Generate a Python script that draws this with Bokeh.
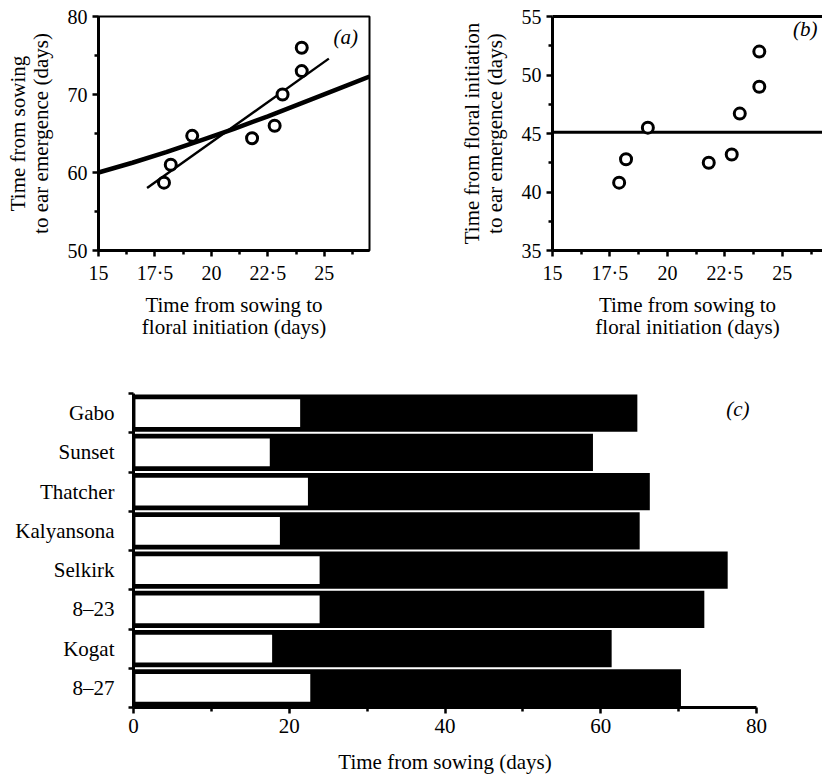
from bokeh.plotting import figure
from bokeh.models import FixedTicker, LinearAxis, Span, Label, Range1d
from bokeh.layouts import column, row
from bokeh.embed import file_html
from bokeh.resources import INLINE

# ---------------- data ----------------
# panels (a) and (b): eight varieties
fi_days = [17.9, 18.2, 19.15, 21.8, 22.8, 23.15, 24.0, 24.0]       # sowing -> floral initiation
sow_to_ee = [58.7, 61.0, 64.7, 64.4, 66.0, 70.0, 73.0, 76.0]      # sowing -> ear emergence
fi_to_ee = [40.8, 42.8, 45.5, 42.5, 43.2, 46.7, 49.0, 52.0]       # floral initiation -> ear emergence

# thick curve in (a)
curve_x = [15, 16.5, 18, 19.5, 21, 22.5, 24, 25.5, 27]
curve_y = [60.0, 61.25, 62.6, 64.1, 65.6, 67.2, 68.9, 70.6, 72.3]
# thin regression line in (a)
fit_x = [17.15, 25.2]
fit_y = [58.0, 74.6]
# horizontal line in (b)
mean_fi_to_ee = 45.1

# panel (c)
varieties = ["Gabo", "Sunset", "Thatcher", "Kalyansona", "Selkirk", "8\u201323", "Kogat", "8\u201327"]
sow_to_fi_c = [21.4, 17.5, 22.4, 18.8, 23.9, 23.9, 17.8, 22.7]
sow_to_ee_c = [64.7, 59.0, 66.3, 65.0, 76.3, 73.3, 61.4, 70.3]

# ticks
ab_xticks = [15, 17.5, 20, 22.5, 25]
ab_xminor = [16.25, 18.75, 21.25, 23.75, 26.25]
a_yticks = [50, 60, 70, 80]
a_yminor = [55, 65, 75]
b_yticks = [35, 40, 45, 50, 55]
b_yminor = [37.5, 42.5, 47.5, 52.5]
c_xticks = [0, 20, 40, 60, 80]
c_xminor = [10, 30, 50, 70]
dot_labels = {17.5: "17\u00b75", 22.5: "22\u00b75"}

FONT = "Liberation Serif"


def style_axis(ax, tick_size="20px", line_width=3):
    ax.axis_line_width = line_width
    ax.axis_line_color = "black"
    ax.major_tick_line_width = 2.5
    ax.minor_tick_line_width = 2.5
    ax.major_tick_line_color = "black"
    ax.minor_tick_line_color = "black"
    ax.major_tick_out = 6
    ax.major_tick_in = 0
    ax.minor_tick_out = 4
    ax.minor_tick_in = 0
    ax.major_label_text_font = FONT
    ax.major_label_text_font_size = tick_size
    ax.major_label_text_color = "black"
    ax.axis_label_text_font = FONT
    ax.axis_label_text_font_size = "21px"
    ax.axis_label_text_font_style = "normal"
    ax.axis_label_text_color = "black"
    ax.axis_label_text_line_height = 0.95


def base(width, height, x_range, y_range, left, right, top, bottom):
    p = figure(width=width, height=height, x_range=x_range, y_range=y_range,
               output_backend="svg", toolbar_location=None,
               min_border_left=left, min_border_right=right,
               min_border_top=top, min_border_bottom=bottom)
    p.grid.visible = False
    p.background_fill_color = "white"
    p.border_fill_color = "white"
    return p


def panel_tag(p, x, y, text):
    p.add_layout(Label(x=x, y=y, text=text, text_font=FONT, text_font_size="21px",
                       text_font_style="italic", text_color="black",
                       text_align="center", text_baseline="middle"))


TOP_H = 347

# ---------------- panel (a) ----------------
pa = base(400, TOP_H, Range1d(15, 27), Range1d(50, 80), 98, 31, 15, 97)
pa.outline_line_color = "black"
pa.outline_line_width = 2
pa.line(curve_x, curve_y, line_width=4.5, line_color="black")
pa.line(fit_x, fit_y, line_width=2.4, line_color="black")
pa.scatter(fi_days, sow_to_ee, marker="circle", size=11, fill_color="white",
           line_color="black", line_width=3)
pa.xaxis.ticker = FixedTicker(ticks=ab_xticks, minor_ticks=ab_xminor)
pa.xaxis.major_label_overrides = dot_labels
pa.yaxis.ticker = FixedTicker(ticks=a_yticks, minor_ticks=a_yminor)
pa.xaxis.axis_label = "Time from sowing to\nfloral initiation (days)"
pa.yaxis.axis_label = "Time from sowing\nto ear emergence (days)"
for ax in pa.xaxis + pa.yaxis:
    style_axis(ax)
pa.xaxis.axis_label_standoff = 6
pa.yaxis.axis_label_standoff = 12
panel_tag(pa, 25.95, 77.4, "(a)")

# ---------------- panel (b) ----------------
pb = base(422, TOP_H, Range1d(15, 26.75), Range1d(35, 55), 152, 0, 16, 96)
pb.outline_line_color = None
pb.add_layout(Span(location=mean_fi_to_ee, dimension="width", line_color="black",
                   line_width=3, level="underlay"))
pb.scatter(fi_days, fi_to_ee, marker="circle", size=11, fill_color="white",
           line_color="black", line_width=3)
pb.xaxis.ticker = FixedTicker(ticks=ab_xticks, minor_ticks=ab_xminor)
pb.xaxis.major_label_overrides = dot_labels
pb.yaxis.ticker = FixedTicker(ticks=b_yticks, minor_ticks=b_yminor)
pb.xaxis.axis_label = "Time from sowing to\nfloral initiation (days)"
pb.yaxis.axis_label = "Time from floral initiation\nto ear emergence (days)"
for ax in pb.xaxis + pb.yaxis:
    style_axis(ax)
pb.xaxis.axis_label_standoff = 6
pb.yaxis.axis_label_standoff = 12
top_b = LinearAxis(ticker=FixedTicker(ticks=[]), axis_line_width=3, axis_line_color="black",
                   major_tick_line_color=None, minor_tick_line_color=None)
pb.add_layout(top_b, "above")
panel_tag(pb, 26.0, 53.9, "(b)")

# ---------------- panel (c) ----------------
n = len(varieties)
ypos = [n - i - 0.5 for i in range(n)]
pc = base(822, 778 - TOP_H, Range1d(0, 80), Range1d(0, n), 133, 66, 393 - TOP_H, 71)
pc.outline_line_color = None
pc.hbar(y=ypos, left=0, right=sow_to_ee_c, height=0.95, fill_color="black", line_color=None)
pc.hbar(y=ypos, left=0.25, right=sow_to_fi_c, height=0.71, fill_color="white", line_color=None)
pc.xaxis.ticker = FixedTicker(ticks=c_xticks, minor_ticks=c_xminor)
pc.yaxis.ticker = FixedTicker(ticks=ypos, minor_ticks=list(range(n + 1)))
pc.yaxis.major_label_overrides = {y: v for y, v in zip(ypos, varieties)}
pc.xaxis.axis_label = "Time from sowing (days)"
for ax in pc.xaxis + pc.yaxis:
    style_axis(ax, tick_size="21px")
pc.yaxis.major_tick_out = 0
pc.yaxis.minor_tick_out = 5
pc.yaxis.major_label_standoff = 14
pc.xaxis.axis_label_standoff = 14
panel_tag(pc, 77.6, 7.6, "(c)")

layout = column(row(pa, pb), pc)

with open("out.html", "w") as f:
    f.write(file_html(layout, INLINE))
